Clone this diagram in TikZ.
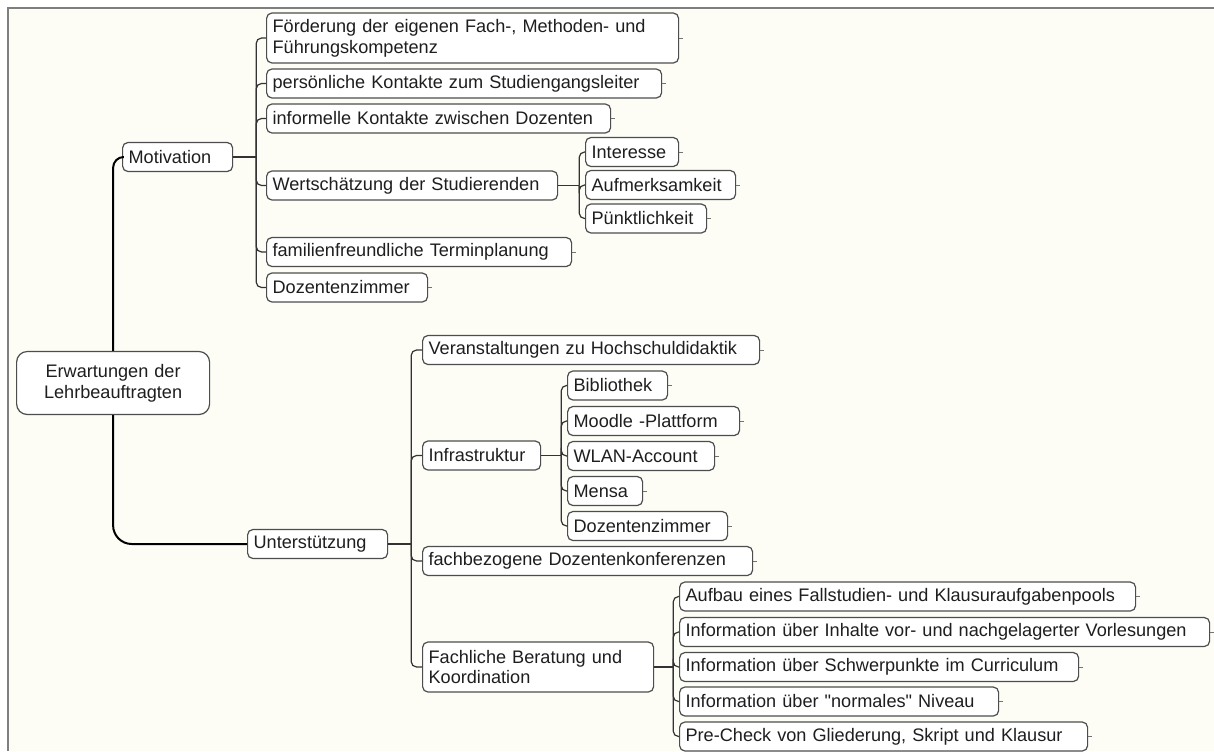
\documentclass[tikz,border=0pt]{standalone}
\usepackage{fontspec}
\setmainfont{Liberation Sans}
\usetikzlibrary{positioning}
\definecolor{paper}{HTML}{FDFDF6}
\definecolor{framegray}{HTML}{7F7F7F}
\definecolor{edgegray}{HTML}{4D4D4D}
\definecolor{inkgray}{HTML}{1E1E1E}
\begin{document}
\begin{tikzpicture}[
    x=0.75pt, y=-0.75pt,
    box/.style={rectangle, draw=edgegray, line width=0.9pt, rounded corners=4pt, fill=white, anchor=west, align=left, inner xsep=4.5pt, inner ysep=0pt, minimum height=21.75pt, text=inkgray, font=\fontsize{13.6}{15.5}\selectfont},
    tall/.style={minimum height=37.5pt},
    link/.style={draw=black!80, line width=0.9pt, rounded corners=4pt},
    trunk/.style={draw=black, line width=1.5pt},
    tick/.style={draw=black!55, line width=0.75pt}
]

\useasboundingbox (0,0) rectangle (1214,751);
\fill[white] (0,0) rectangle (1214,751);
\fill[paper] (8,8) rectangle (1214,751);
\draw[framegray, line width=1.2pt] (8,751) -- (8,8) -- (1214,8);

\node[box, align=center, rounded corners=8pt, text width=135.75pt, minimum height=47.25pt] (root) at (16,383) {Erwartungen der\\Lehrbeauftragten};

\node[box, text width=73.5pt] (motiv) at (122,157) {Motivation};
\node[box, tall, text width=300pt] (foerd) at (266,38) {Förderung der eigenen Fach-, Methoden- und\\Führungskompetenz};
\node[box, text width=287.25pt] (pers) at (266,83.5) {persönliche Kontakte zum Studiengangsleiter};
\node[box, text width=249pt] (info) at (266,118.5) {informelle Kontakte zwischen Dozenten};
\node[box, text width=209.25pt] (wert) at (266,185.5) {Wertschätzung der Studierenden};
\node[box, text width=219.75pt] (fam) at (266,252) {familienfreundliche Terminplanung};
\node[box, text width=111.75pt] (dozm) at (266,287.5) {Dozentenzimmer};
\node[box, text width=60.75pt] (inter) at (585,152) {Interesse};
\node[box, text width=103.5pt] (aufm) at (585,185) {Aufmerksamkeit};
\node[box, text width=81.75pt] (puenkt) at (585,218.5) {Pünktlichkeit};

\node[box, text width=96pt] (unter) at (247,544) {Unterstützung};
\node[box, text width=243.75pt] (veran) at (422,350) {Veranstaltungen zu Hochschuldidaktik};
\node[box, text width=79.5pt] (infra) at (422,455.5) {Infrastruktur};
\node[box, text width=238.5pt] (fachk) at (422,561) {fachbezogene Dozentenkonferenzen};
\node[box, tall, text width=164.25pt] (fachb) at (422,667) {Fachliche Beratung und\\Koordination};
\node[box, text width=66pt] (bib) at (567,385.5) {Bibliothek};
\node[box, text width=120pt] (moodle) at (567,421) {Moodle -Plattform};
\node[box, text width=101.25pt] (wlan) at (567,456) {WLAN-Account};
\node[box, text width=47.25pt] (mensa) at (567,491) {Mensa};
\node[box, text width=111pt] (dozi) at (567,526) {Dozentenzimmer};
\node[box, text width=333pt] (aufbau) at (679,596.5) {Aufbau eines Fallstudien- und Klausuraufgabenpools};
\node[box, text width=388.5pt] (inhalte) at (679,632) {Information über Inhalte vor- und nachgelagerter Vorlesungen};
\node[box, text width=290.25pt] (schwer) at (679,667) {Information über Schwerpunkte im Curriculum};
\node[box, text width=230.25pt] (normal) at (679,701.5) {Information über \textquotedbl normales\textquotedbl{} Niveau};
\node[box, text width=297pt] (precheck) at (679,736.5) {Pre-Check von Gliederung, Skript und Klausur};

\draw[trunk, rounded corners=8pt] (root.north) |- (motiv.west);
\draw[trunk, rounded corners=14pt] (root.south) |- (unter.west);

\draw[link] (motiv.east) -- ++(23,0) coordinate (mj);
\foreach \c in {foerd,pers,info,wert,fam,dozm}
    \draw[link] (mj) |- (\c.west);
\draw[link] (wert.east) -- ++(21,0) coordinate (wj);
\foreach \c in {inter,aufm,puenkt}
    \draw[link] (wj) |- (\c.west);
\draw[link] (unter.east) -- ++(23,0) coordinate (uj);
\foreach \c in {veran,infra,fachk,fachb}
    \draw[link] (uj) |- (\c.west);
\draw[link] (infra.east) -- ++(20,0) coordinate (ij);
\foreach \c in {bib,moodle,wlan,mensa,dozi}
    \draw[link] (ij) |- (\c.west);
\draw[link] (fachb.east) -- ++(19,0) coordinate (fj);
\foreach \c in {aufbau,inhalte,schwer,normal,precheck}
    \draw[link] (fj) |- (\c.west);

\foreach \c in {foerd,pers,info,fam,dozm,inter,aufm,puenkt,veran,fachk,bib,moodle,wlan,mensa,dozi,aufbau,inhalte,schwer,normal,precheck}
    \draw[tick] (\c.east) -- ++(4,0);

\end{tikzpicture}
\end{document}
